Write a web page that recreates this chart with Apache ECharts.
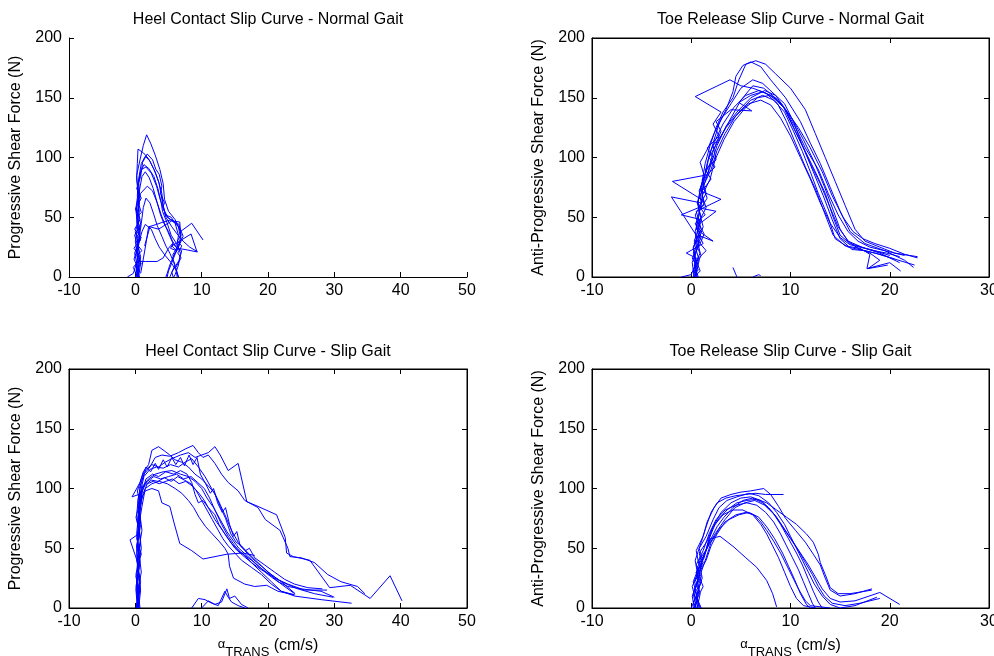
<!DOCTYPE html>
<html>
<head>
<meta charset="utf-8">
<title>Slip curves</title>
<script src="https://cdn.jsdelivr.net/npm/echarts@6/dist/echarts.min.js"></script>
<style>
  html, body { margin: 0; padding: 0; background: #fff; }
  #chart { width: 994px; height: 656px; }
</style>
</head>
<body>
<div id="chart"></div>
<script>
// panel titles and axis text
const panelTitles = [
  "Heel Contact Slip Curve - Normal Gait",
  "Toe Release Slip Curve - Normal Gait",
  "Heel Contact Slip Curve - Slip Gait",
  "Toe Release Slip Curve - Slip Gait"
];
const yNames = [
  "Progressive Shear Force (N)",
  "Anti-Progressive Shear Force (N)",
  "Progressive Shear Force (N)",
  "Anti-Progressive Shear Force (N)"
];
const xRanges = [[-10, 50], [-10, 30], [-10, 50], [-10, 30]];
const yRange = [0, 200];

// traces: [velocity (cm/s), shear force (N)]
const heelNormal = [
  [[-1.2,0],[-0.3,3],[0.2,12],[-0.1,20],[0.4,28],[0,38],[0.5,47],[0.1,58],[0.4,70],[0.2,85],[0.7,98],[1.2,110],[1.7,119],[2.3,112],[3,102],[3.7,90],[4.2,78],[4.4,65],[5,55],[6,48],[6.8,38],[8.5,45],[10.2,31]],
  [[0.3,0],[0.6,10],[0.1,22],[0.7,32],[0.2,45],[0.6,55],[0.3,68],[0.5,82],[0.9,95],[1.5,101],[2.2,97],[3,88],[3.6,78],[4.1,62],[4.6,50],[5.5,42],[6.3,36],[7.2,30],[8.2,25],[9.4,21]],
  [[0.5,0],[0.2,8],[0.8,17],[0.3,27],[0.7,36],[0.2,48],[0.6,62],[0.4,76],[0.8,88],[1.3,94],[2,91],[2.8,84],[3.4,74],[3.9,62],[4.1,55],[4.8,45],[5.4,35],[6.2,28],[6.8,20],[6.5,10],[6,2],[5.8,0]],
  [[0,0],[0.5,6],[-0.2,15],[0.4,25],[-0.1,35],[0.6,42],[0.2,52],[0.7,65],[0.5,80],[0.9,90],[1.6,92],[2.4,87],[3.2,76],[3.8,64],[4.2,58],[4.8,50],[5.8,46],[6.5,42],[6.8,33],[6.5,24],[5.8,18],[5.2,10],[4.8,3],[4.6,0]],
  [[0.4,0],[0.1,10],[0.6,20],[0.3,32],[0.8,44],[0.4,58],[0.6,72],[1,84],[1.5,88],[2.1,83],[2.7,74],[3.3,62],[3.8,52],[4.3,45],[5,38],[5.6,30],[6.3,24],[7,22],[6.6,14],[5.6,5],[5.2,0]],
  [[0.6,0],[0.3,7],[0.8,14],[0.2,24],[0.6,33],[0.9,45],[1.2,58],[1.6,66],[2.2,62],[2.8,52],[3.3,43],[4,34],[4.6,26],[5.2,20],[5.8,12],[6.2,5],[6.3,0]],
  [[0.2,0],[0.6,5],[0.3,13],[1.5,13],[3.3,13],[4.2,16],[5,24],[5.6,28],[6.3,24],[7.5,23],[9.3,21]],
  [[0.8,3],[1.2,15],[1.6,28],[2,42],[3.2,44],[4.2,46],[5.5,48],[6.3,44],[6.8,40],[7.2,34],[6.4,26],[5.6,18]],
  [[0.1,0],[0.3,18],[0,30],[0.4,42],[0.1,55],[0.5,68],[0.2,82],[0.3,95],[0.4,107],[1.2,104],[2,99],[2.8,90],[3.5,80],[4,70],[4.2,60],[4.5,52],[5.4,50],[6,45],[6.5,35],[6.2,22],[5.5,12],[5,5],[4.8,0]],
  [[0.5,0],[0.8,12],[0.3,20],[0.6,30],[1,38],[1.5,44],[2.4,40],[3,32],[3.6,25],[4.5,18],[5.4,12],[6.1,6],[6.5,0]],
  [[0.3,0],[-0.3,8],[0.8,16],[-0.2,24],[0.9,33],[-0.1,40],[0.7,48],[0,57],[0.9,66],[0.2,74],[0.8,84],[1.1,96],[1.8,103],[2.6,98],[3.1,90],[3.6,86],[4,76],[3.8,70],[4.4,62],[4.1,58],[4.9,50],[5.8,46],[6.6,44],[6.9,35],[6.3,30],[7,26],[6.4,20],[6.9,16],[6.1,8],[6.5,0]],
  [[0.6,0],[0.1,6],[0.9,11],[0.2,18],[1,22],[0.3,27],[0.8,31],[0,37],[0.7,41],[0.2,50],[0.9,54],[0.4,63],[0.8,70],[1.8,76],[2.6,72],[3.3,62],[3.9,52],[4.6,42],[5.2,34],[5.7,28],[5.3,24],[6.2,22],[5.6,16],[6,10],[5.5,4],[5.7,0]],
  [[1.4,26],[2.2,42],[3.5,40],[5.5,47],[6.7,46],[6.9,30],[6.2,22],[5.5,26],[8.4,36],[9.3,21]]
];

const toeNormal = [
  [[0.3,0],[0.1,12],[0.6,25],[0.4,38],[0.8,52],[0.7,65],[1.1,80],[1.4,95],[1.9,110],[2.5,125],[3.2,138],[4.2,150],[4.8,165],[5.5,178],[6.5,181],[7.5,178],[8.5,170],[10,158],[11.5,140],[12.5,120],[13.5,100],[14.5,80],[15.5,60],[16.5,40],[17.5,30],[19,25],[20.5,20],[22.8,17]],
  [[0.5,0],[0.3,15],[0.8,30],[0.5,45],[1,60],[1.2,78],[1.6,95],[2.2,112],[2.8,128],[3.5,140],[4.2,155],[4.5,168],[5.2,177],[6,180],[7,176],[8,165],[9.5,150],[11,130],[12,112],[13,95],[14,75],[15,55],[16,38],[17.5,28],[19.5,22],[21.5,14],[22.4,8]],
  [[0.2,0],[0.5,12],[0.2,25],[0.9,38],[0.4,52],[1.2,64],[-1.9,80],[1.3,85],[0.9,96],[1.7,108],[2.3,120],[3,132],[4,145],[5,158],[6.2,165],[7.2,162],[8.5,152],[9.5,140],[10.5,122],[11.5,105],[12.5,88],[13.5,70],[14.3,50],[15,35],[16,28],[17.5,24],[19,20],[21,12]],
  [[0.6,0],[0.3,10],[0.9,20],[0.5,35],[-2,67],[1,62],[0.8,72],[1.5,88],[1.8,102],[2.5,116],[3.2,128],[4.3,142],[5.5,152],[6.8,156],[8,152],[9.3,142],[10.3,125],[11.3,108],[12.3,88],[13.3,68],[14.2,48],[15,32],[16.2,23],[17.5,22],[18.5,20],[20.5,15],[22.5,10]],
  [[0.4,0],[0.8,14],[0.3,28],[1,40],[0.5,55],[3,65],[0.9,72],[1.3,85],[2.2,100],[1.6,108],[2.8,118],[2.2,128],[3,138],[0.4,151],[3.9,165],[5,160],[6.2,158],[7.5,154],[8.7,145],[9.6,130],[10.5,112],[11.5,92],[12.6,72],[13.5,52],[14.3,35],[15.5,26],[17,24],[18,19],[17.7,7],[20,12],[21.1,5]],
  [[0.7,0],[0.4,8],[1,18],[0.3,30],[0.9,45],[2.5,55],[0.7,58],[1.5,70],[1.1,82],[2.4,92],[1.8,100],[2.6,112],[3.5,125],[4.8,138],[6,148],[7.2,152],[8.3,148],[9.4,138],[10.3,122],[11.2,105],[12,88],[12.8,70],[13.8,50],[14.5,32],[15.8,25],[17.5,22],[19,19],[20.5,15]],
  [[0.5,0],[0.2,6],[0.7,15],[-0.5,20],[1.2,28],[0.6,38],[1,48],[-1,52],[1.3,60],[1,75],[1.7,88],[2.2,105],[3,122],[2.5,130],[4,140],[6.1,139],[4.8,146],[6,152],[7.2,155],[8.5,150],[9.5,140],[10.5,125],[11.5,108],[12.8,90],[13.8,70],[14.8,52],[15.8,38],[16.8,30],[18,25],[19.5,22],[21.5,18]],
  [[0.3,0],[0.9,5],[0.5,14],[1.5,22],[0.7,30],[1.2,42],[0.8,55],[1.6,66],[1.2,76],[2,90],[2.6,106],[3.4,120],[4.5,135],[5.8,145],[7,148],[8,144],[9,133],[10,118],[11,100],[12,82],[13,62],[14,45],[15,33],[16,27],[17,25],[18.5,22],[20,18]],
  [[0.4,0],[0.6,10],[0.2,20],[1,33],[0.4,45],[1.4,52],[0.6,62],[1.1,72],[2,82],[1.4,90],[2.5,98],[2.2,110],[3,118],[3.8,130],[5,148],[6.2,160],[7.3,158],[8.2,152],[9.5,140],[10.8,125],[12,108],[13.2,88],[14.2,68],[15.3,50],[16.3,38],[17.3,32],[18.5,28],[20,24],[21.5,19],[22.8,16]],
  [[0.2,0],[0.7,6],[0.1,16],[0.8,26],[1.3,36],[0.7,45],[1.5,58],[1.1,68],[1.9,82],[2.4,98],[3.3,115],[4.3,130],[5.5,142],[6.7,150],[7.9,152],[9,146],[10.2,132],[11.3,115],[12.4,96],[13.4,76],[14.3,56],[15,40],[15.8,30],[16.8,24],[18,20],[19,14],[17.8,7],[19.8,10]],
  [[-1,0],[0,2],[0.5,12],[0.2,24],[0.7,35],[2.2,30],[0.5,40],[1,50],[0.6,62],[1.2,75],[1.9,92],[2.6,110],[3.5,126],[4.6,138],[6,150],[7.4,156],[8.5,152],[9.4,145],[10.3,130],[11.2,110],[12,95],[13,78],[14,58],[14.8,42],[15.8,30],[17.2,25],[18.4,22],[19.7,20],[21,17]],
  [[4.2,8],[4.5,2],[4.6,0]],
  [[6.2,0],[6.8,2],[7,1]]
];

const heelSlip = [
  [[0.3,0],[0.1,15],[0.5,30],[0.2,50],[0.6,70],[0.4,90],[0.9,105],[1.6,116],[2.5,120],[3.5,118],[4.5,122],[5.5,125],[6.8,128],[8,130],[9,126],[10,128],[11,130],[12,135],[12.8,128],[14,115],[15.5,121],[16.8,89],[18.5,85],[21.3,78],[22.6,59],[22.8,46],[23.8,43],[26.3,40],[29.3,17],[32.4,19],[35.4,8],[38.4,27],[40.2,6]],
  [[0.5,0],[0.2,20],[0.6,40],[0.3,60],[0.7,85],[0.6,100],[1.3,112],[2.2,118],[3,126],[4,128],[5.2,127],[6.5,130],[7.5,133],[8.7,136],[9.5,130],[10.2,126],[11,128],[12,121],[13,112],[14,105],[15.5,98],[16.5,90],[18.5,84],[19.6,74],[21.8,65],[23,50],[23.3,43],[25,42],[27,38],[29,28],[31,22],[33.5,18],[34.6,12]],
  [[0.2,0],[0.5,12],[0.1,28],[0.6,45],[0.2,62],[0.5,80],[0.8,98],[1.3,110],[2.2,116],[3.2,118],[4.2,117],[5.3,120],[6.5,118],[7.5,122],[8.5,125],[9.5,118],[10.5,110],[11.5,100],[12.5,90],[13.5,78],[14.5,65],[15.5,55],[16.5,48],[17.5,42],[19,35],[20.5,28],[22,22],[24.1,12]],
  [[0.6,0],[0.3,10],[0.7,25],[0.2,40],[0.8,55],[0.4,72],[0.9,88],[1,100],[1.8,106],[2.8,110],[3.8,108],[5,110],[6.2,112],[7.3,108],[8.4,110],[9.4,105],[10.4,100],[11.2,92],[12,82],[13,70],[14,60],[15,52],[16,46],[17.5,40],[19,33],[21,25],[23,20],[25.5,15],[28.9,15]],
  [[0.4,0],[0.1,18],[0.6,34],[-0.8,57],[0.5,62],[0.2,78],[0.5,95],[-0.5,93],[0.7,105],[1.2,114],[2,120],[2.5,132],[3.5,135],[4.5,131],[5.2,128],[6,124],[7,122],[8,118],[9,112],[10,108],[11,102],[12,96],[12.8,85],[13.6,75],[14.4,62],[15.2,55],[16,52],[17,46],[18.5,38],[20,30],[22,22],[24.5,16],[27,12],[29.8,9]],
  [[0.7,0],[0.4,15],[0.9,30],[0.5,48],[1,65],[0.6,82],[1.2,96],[1.8,104],[2.7,106],[3.6,104],[4.6,106],[5.6,108],[6.6,104],[7.6,106],[8.6,102],[9.6,96],[10.4,90],[11.2,82],[12,74],[13,66],[14,58],[15,50],[16.2,44],[17.5,38],[19,30],[20.5,22],[22,14],[24,10],[28,7],[32.6,4]],
  [[0.3,0],[0.6,20],[0.2,45],[0.6,70],[0.8,90],[1.5,98],[2.5,100],[3.5,98],[4,88],[5.2,85],[5.8,72],[6.7,54],[8.5,48],[10.2,41],[13.8,45],[16.2,46],[18,44]],
  [[0.5,0],[0.8,15],[0.4,32],[0.9,50],[0.5,68],[1,85],[1.5,100],[2.5,104],[3.6,106],[4.8,104],[6,100],[7,96],[8,90],[8.8,84],[9.6,76],[10.6,68],[11.6,62],[12.6,56],[13.5,50],[14,45],[14.2,35],[14.8,25],[16.5,20],[18,18],[19.8,19],[21.5,14],[24,11]],
  [[0.2,0],[0.5,8],[0.2,22],[0.7,38],[0.3,52],[0.8,70],[0.6,88],[1.1,102],[2,108],[3,112],[4.2,114],[5.5,115],[6.8,112],[8,110],[9,106],[10,100],[10.8,92],[11.8,84],[12.8,74],[13.8,64],[14.8,56],[15.6,50],[16.6,45],[17.6,40],[18.8,34],[20,28],[21.5,22],[23,18],[25,16],[28,14],[30,9]],
  [[0.4,0],[0.7,18],[0.3,36],[0.8,56],[0.4,76],[0.9,94],[1.6,108],[2.6,112],[3.5,110],[4.6,114],[5.8,112],[6.8,115],[7.8,112],[8.5,105],[9,95],[9.5,88],[10.2,90],[11,84],[12,78],[12.6,70],[13.5,62],[14.5,54],[15.5,48],[16.5,44],[17.5,38],[19,32],[20.5,27],[22,20],[24,12]],
  [[8.5,0],[9.5,8],[10.5,7],[11.5,4],[12.5,2],[13.5,14],[14,9],[14.5,5],[15.5,2],[16.5,0]],
  [[10,0],[11,6],[12,3],[13,5],[13.8,16],[14.2,8],[15,10],[16,3],[17,0]],
  [[0.1,0],[0.4,10],[0.8,22],[0.3,35],[0.9,45],[0.2,58],[0.7,72],[0.4,86],[0.8,96],[1.5,103],[2.4,107],[3.4,106],[4.4,109],[5.4,106],[6.4,110],[7.4,107],[8.4,104],[9.2,98],[10,90],[10.8,82],[11.6,74],[12.4,66],[13.2,58],[14,52],[15,46],[16,40],[17.5,34],[19,28],[20.5,20],[22,14],[24,11]],
  [[0.3,0],[0.6,14],[0.1,26],[0.7,40],[0.2,52],[0.6,64],[0.1,76],[0.7,88],[0.3,98],[0.9,108],[1.6,118],[2.3,114],[3,121],[3.5,116],[4.2,124],[4.8,118],[5.5,126],[6.1,120],[6.8,126],[7.4,119],[8.1,128],[8.7,120],[9.3,126],[9.8,112],[10.6,104],[11.3,96],[11.8,100],[12.4,88],[13.1,80],[13.6,84],[14.2,70],[14.8,60],[15.3,64],[15.8,52],[16.6,48],[17.2,50],[18,42],[19.5,36],[21,30],[22.5,24],[24,20],[26,17],[28.2,16]]
];

const toeSlip = [
  [[0.3,0],[0.6,10],[0.2,22],[0.8,35],[0.5,48],[1.2,60],[1.6,72],[2.3,84],[3,92],[4,95],[5,97],[6,98],[7.3,100],[8,95],[8.8,85],[9.5,75],[10.5,65],[11.5,55],[12.3,45],[13,36],[13.5,25],[14,15],[15,10],[16.5,12],[18.2,16]],
  [[0.5,0],[0.2,12],[0.7,25],[0.4,40],[1,55],[1.5,68],[2,80],[2.6,88],[3.5,92],[4.5,94],[5.5,95],[6.5,96],[7.5,95],[9.3,95]],
  [[0,0],[0.4,8],[0.1,18],[0.6,28],[1,38],[1.5,48],[1.9,58],[2.9,60],[4.3,51],[5.5,42],[6.6,34],[7.6,23],[8.2,12],[8.6,1]],
  [[0.8,0],[0.5,10],[1,22],[0.6,34],[1.4,46],[1.8,58],[2.4,70],[3.2,78],[4.2,82],[5.2,82],[6.2,78],[7,70],[7.6,62],[8.2,52],[8.8,42],[9.4,30],[10,18],[10.6,8],[11.3,2],[12.5,0]],
  [[0.2,0],[0.7,6],[0.3,16],[1,26],[0.5,36],[1.2,48],[1.8,62],[2.5,74],[3.4,82],[4.5,86],[5.6,88],[6.6,86],[7.5,80],[8.3,72],[9,62],[9.6,52],[10.2,42],[10.8,32],[11.3,22],[11.8,12],[12.2,4],[12.5,0]],
  [[0.6,0],[0.9,12],[0.4,24],[1.1,36],[0.8,46],[1.6,56],[2.2,68],[3,80],[4,88],[5,92],[6,93],[7,90],[7.8,84],[8.6,76],[9.4,66],[10.2,56],[11,46],[11.8,36],[12.5,26],[13.2,16],[14,8],[15,5],[16.5,6],[19,13],[21,3]],
  [[1,0],[0.6,8],[1.2,18],[0.7,28],[1.5,40],[2,52],[2.6,62],[3.4,72],[4.5,78],[5.5,80],[6.3,78],[7,72],[7.6,65],[8.3,56],[9,46],[9.6,36],[10.2,26],[10.8,16],[11.5,6],[12,2],[14,0]],
  [[0.4,0],[0.8,15],[0.5,30],[1.3,42],[1.7,55],[2.1,66],[2.8,75],[3.6,82],[4.6,88],[5.6,90],[6.6,91],[7.6,88],[8.6,82],[9.6,76],[10.6,70],[11.6,62],[12.3,55],[12.8,45],[13,38],[13.5,28],[14,17],[14.8,12],[16,12],[17.5,14],[18.2,15]],
  [[0.3,0],[0.1,10],[0.6,20],[0.9,32],[1.3,45],[2,58],[2.6,68],[3.3,76],[4.2,84],[5.2,90],[6.2,92],[7.2,88],[8.2,80],[9,70],[9.8,58],[10.6,46],[11.2,36],[11.8,24],[12.3,14],[12.8,5],[13.2,0]],
  [[0.7,0],[0.3,12],[0.9,20],[0.5,30],[1.2,38],[0.8,50],[1.5,60],[2.2,74],[2.8,84],[3.6,90],[4.6,93],[5.8,96],[6.8,94],[7.8,88],[8.6,80],[9.4,70],[10,60],[10.6,50],[11.2,40],[11.8,30],[12.4,20],[13.2,10],[14,3],[15,0],[16.5,2],[18.7,9]],
  [[0.5,0],[0.2,5],[0.8,14],[0.3,22],[1,30],[1.5,42],[2,55],[2.8,66],[3.8,74],[4.8,78],[5.8,80],[6.8,76],[7.6,68],[8.4,58],[9.2,46],[9.8,35],[10.4,24],[11,12],[11.6,3],[12,0]],
  [[0.9,0],[0.5,10],[1.1,25],[0.8,40],[1.6,50],[2.4,62],[3.4,74],[4.4,84],[5.4,88],[6.4,90],[7.4,86],[8.4,78],[9.2,68],[10,58],[10.8,48],[11.5,38],[12.2,28],[12.8,18],[13.4,10],[14.2,4],[15.5,2],[17,4],[19,8]]
];

const panels = [heelNormal, toeNormal, heelSlip, toeSlip];

const FONT = "'Liberation Sans', Arial, Helvetica, sans-serif";
const grids = [
  { left: 69, top: 38, width: 398, height: 239, show: false },
  { left: 592, top: 38, width: 397, height: 239, show: true },
  { left: 69, top: 369, width: 398, height: 239, show: true },
  { left: 592, top: 369, width: 397, height: 239, show: true }
];

const tickStyle = { show: true, inside: true, length: 5, lineStyle: { color: "#000", width: 1 } };
const lineStyleAx = { show: true, onZero: false, lineStyle: { color: "#000", width: 1 } };

const xAxes = [];
const yAxes = [];
const series = [];

grids.forEach((g, i) => {
  const boxed = g.show;
  const bottomRow = i >= 2;
  const xa = {
    gridIndex: i, type: "value", position: "bottom",
    min: xRanges[i][0], max: xRanges[i][1], interval: 10,
    axisLine: lineStyleAx, axisTick: tickStyle, splitLine: { show: false },
    axisLabel: { color: "#000", fontSize: 16, fontFamily: FONT, margin: 6 }
  };
  if (bottomRow) {
    // alpha with subscript TRANS, then units
    xa.name = "{a|\u03B1}{s|TRANS}{n| (cm/s)}";
    xa.nameLocation = "middle";
    xa.nameGap = 30;
    xa.nameTextStyle = {
      fontFamily: FONT, color: "#000",
      rich: {
        a: { fontSize: 13, fontFamily: FONT, color: "#000", verticalAlign: "top", lineHeight: 21 },
        s: { fontSize: 13, fontFamily: FONT, color: "#000", verticalAlign: "bottom", lineHeight: 21 },
        n: { fontSize: 16, fontFamily: FONT, color: "#000", verticalAlign: "top", lineHeight: 21 }
      }
    };
  }
  const xIdx = xAxes.length;
  xAxes.push(xa);
  const yIdx = yAxes.length;
  yAxes.push({
    gridIndex: i, type: "value", position: "left",
    min: yRange[0], max: yRange[1], interval: 50,
    name: yNames[i], nameLocation: "middle", nameGap: 45,
    nameTextStyle: { fontSize: 16, fontFamily: FONT, color: "#000" },
    axisLine: lineStyleAx, axisTick: tickStyle, splitLine: { show: false },
    axisLabel: { color: "#000", fontSize: 16, fontFamily: FONT, margin: 7 }
  });
  if (boxed) {
    xAxes.push({
      gridIndex: i, type: "value", position: "top",
      min: xRanges[i][0], max: xRanges[i][1], interval: 10,
      axisLine: lineStyleAx, axisTick: tickStyle, axisLabel: { show: false }, splitLine: { show: false }
    });
    yAxes.push({
      gridIndex: i, type: "value", position: "right",
      min: yRange[0], max: yRange[1], interval: 50,
      axisLine: lineStyleAx, axisTick: tickStyle, axisLabel: { show: false }, splitLine: { show: false }
    });
  }
  panels[i].forEach((trace) => {
    series.push({
      type: "line",
      xAxisIndex: xIdx,
      yAxisIndex: yIdx,
      data: trace,
      showSymbol: false,
      symbol: "none",
      clip: true,
      lineStyle: { color: "#0000ff", width: 1 },
      silent: true
    });
  });
});

const titles = panelTitles.map((t, i) => ({
  text: t,
  left: grids[i].left + grids[i].width / 2,
  top: i < 2 ? 12 : 344,
  textAlign: "center",
  padding: 0,
  textStyle: { fontSize: 16, fontWeight: "normal", color: "#000", fontFamily: FONT }
}));

const chart = echarts.init(document.getElementById("chart"), null, { renderer: "canvas" });
chart.setOption({
  animation: false,
  backgroundColor: "#fff",
  title: titles,
  grid: grids.map((g) => ({
    left: g.left, top: g.top, width: g.width, height: g.height,
    show: g.show, borderColor: "#000", borderWidth: 1,
    containLabel: false, outerBoundsMode: "none"
  })),
  xAxis: xAxes,
  yAxis: yAxes,
  series: series
});
</script>
</body>
</html>
